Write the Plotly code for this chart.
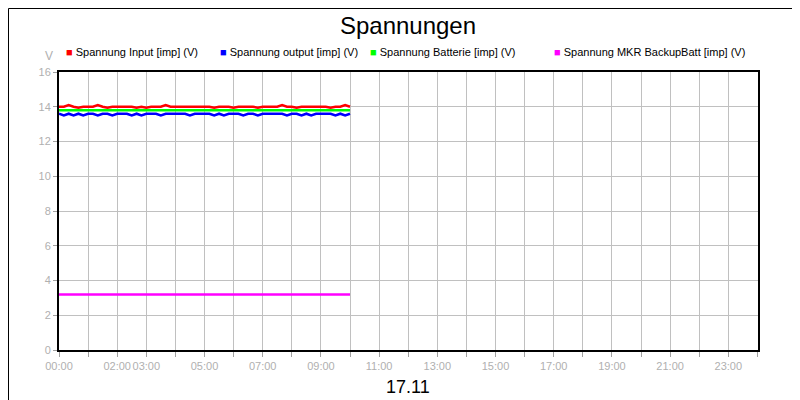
import plotly.graph_objects as go

times = [i / 6 for i in range(61)]  # hours, 10-min steps, 00:00 - 10:00
u_input = [14.0,14.0,14.1,14.0,13.95,14.0,14.0,14.0,14.1,14.0,13.95,14.0,14.0,14.0,14.0,14.0,13.95,14.0,13.95,14.0,
           14.0,14.0,14.1,14.0,14.0,14.0,14.0,14.0,14.0,14.0,14.0,14.0,13.95,14.0,14.0,14.0,13.95,14.0,14.0,14.0,
           14.0,13.95,14.0,14.0,14.0,14.0,14.1,14.0,14.0,13.95,14.0,14.0,14.0,14.0,14.0,14.0,13.95,14.0,14.0,14.1,14.0]
u_output = [13.6,13.5,13.6,13.5,13.6,13.5,13.6,13.6,13.5,13.6,13.6,13.5,13.6,13.6,13.6,13.5,13.6,13.5,13.6,13.6,
            13.6,13.5,13.6,13.6,13.6,13.6,13.6,13.5,13.6,13.6,13.6,13.6,13.5,13.6,13.5,13.6,13.6,13.6,13.5,13.6,
            13.6,13.5,13.6,13.6,13.6,13.6,13.6,13.5,13.6,13.6,13.5,13.6,13.5,13.6,13.6,13.6,13.6,13.5,13.6,13.5,13.6]
u_batt = [13.8] * 61
u_mkr = [3.2] * 61

series = [("Spannung Input [imp] (V)", u_input, "#ff0000"),
          ("Spannung output [imp] (V)", u_output, "#0000ff"),
          ("Spannung Batterie [imp] (V)", u_batt, "#00ff00"),
          ("Spannung MKR BackupBatt [imp] (V)", u_mkr, "#ff00ff")]
legend_px = [58, 212, 362, 546]

shown = {0, 2, 3, 5, 7, 9, 11, 13, 15, 17, 19, 21, 23}
tick_vals = list(range(25))
tick_text = [f"{h:02d}:00" if h in shown else "" for h in tick_vals]

L, T, W, H = 51, 64, 699, 278
def px(x): return (x - L) / W
def py(y): return (T + H - y) / H

fig = go.Figure()
annotations = [dict(text="V", xref="paper", yref="paper", x=px(47), y=py(48),
                    xanchor="right", yanchor="middle", showarrow=False,
                    font=dict(color="#b0b0b0", size=12))]
for (name, ys, col), lx in zip(series, legend_px):
    fig.add_trace(go.Scatter(x=times, y=ys, name=name, mode="lines", showlegend=False,
                             line=dict(color=col, width=2.5)))
    annotations.append(dict(text=f"<span style='color:{col}'>■</span> {name}",
                            xref="paper", yref="paper", x=px(lx - 2), y=py(44),
                            xanchor="left", yanchor="middle", showarrow=False,
                            font=dict(size=11, color="black")))
annotations.append(dict(text="17.11", xref="paper", yref="paper", x=px(400), y=py(379),
                        xanchor="center", yanchor="middle", showarrow=False,
                        font=dict(size=18, color="black")))

fig.update_layout(
    width=800, height=400, paper_bgcolor="white", plot_bgcolor="white",
    font=dict(family="Liberation Sans, Arial", size=11, color="black"),
    margin=dict(l=L, r=800 - L - W, t=T, b=400 - T - H, autoexpand=False),
    title=dict(text="Spannungen", x=0.5, xanchor="center", y=1 - 18/400, yanchor="middle",
               font=dict(size=24, color="black")),
    xaxis=dict(range=[0, 24.02], tickvals=tick_vals, ticktext=tick_text, tickangle=0,
               automargin=False,
               showgrid=True, gridcolor="#c0c0c0", ticks="outside", ticklen=5,
               tickcolor="#a0a0a0", tickfont=dict(color="#b0b0b0", size=11),
               showline=True, linecolor="black", linewidth=2, mirror=True),
    yaxis=dict(range=[0, 16], dtick=2, showgrid=True, gridcolor="#c0c0c0", automargin=False,
               ticks="outside", ticklen=4, tickcolor="#a0a0a0",
               tickfont=dict(color="#b0b0b0", size=11),
               showline=True, linecolor="black", linewidth=2, mirror=True),
    annotations=annotations,
    shapes=[dict(type="rect", xref="paper", yref="paper", x0=px(0.5), x1=px(799.5),
                 y0=py(399.5), y1=py(0.5), line=dict(color="black", width=1))],
)
fig.write_html("out.html")
